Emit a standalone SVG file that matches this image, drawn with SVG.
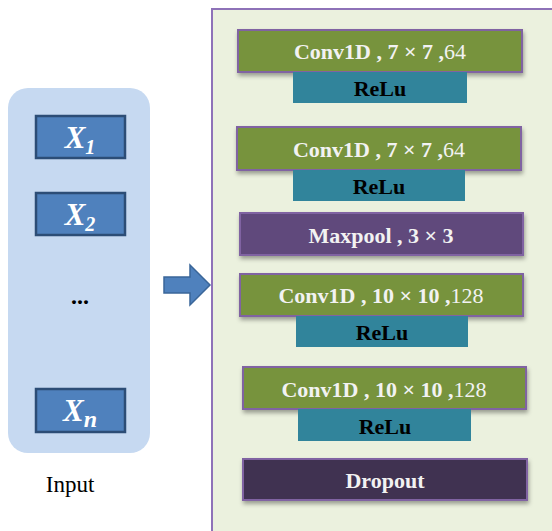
<svg xmlns="http://www.w3.org/2000/svg" width="552" height="531" viewBox="0 0 552 531">
<defs>
<filter id="sh" x="-10%" y="-20%" width="120%" height="160%">
<feDropShadow dx="1" dy="3" stdDeviation="2" flood-color="#000" flood-opacity="0.35"/>
</filter>
</defs>
<style>
.conv{fill:#77933c;stroke:#8064a2;stroke-width:2;filter:url(#sh)}
.relu{fill:#31849b}
.xb{fill:#4f81bd;stroke:#2c4d76;stroke-width:2.5}
.t{font-family:"Liberation Serif","Times New Roman","DejaVu Serif",serif;font-weight:bold;text-anchor:middle}
.w{fill:#f2f2f2;font-size:22px}
.k{fill:#000;font-size:22px}
.xl{font-family:"Liberation Serif","Times New Roman","DejaVu Serif",serif;font-weight:bold;font-style:italic;fill:#fff;font-size:31px;text-anchor:middle}
.n{font-weight:normal}
.s{font-family:"Liberation Serif","Times New Roman","DejaVu Serif",serif;fill:#000;text-anchor:middle}
</style>
<rect x="0" y="0" width="552" height="531" fill="#fff"/>
<g id="input">
<rect x="8" y="88" width="142" height="365" rx="20" fill="#c6d9f1"/>
<g id="x1"><rect class="xb" x="36" y="116" width="89" height="42"/><text class="xl" x="80" y="148">X<tspan font-size="20" dy="6">1</tspan></text></g>
<g id="x2"><rect class="xb" x="36" y="193" width="89" height="42"/><text class="xl" x="80" y="225">X<tspan font-size="20" dy="6">2</tspan></text></g>
<text class="s" x="80" y="304" font-size="24" font-weight="bold">...</text>
<g id="xn"><rect class="xb" x="36" y="389" width="89" height="43"/><text class="xl" x="80" y="421">X<tspan font-size="24" dy="6">n</tspan></text></g>
</g>
<text class="s" x="70" y="492" font-size="23">Input</text>
<g id="connectors">
<path d="M164,277 H190 V265 L210,285 L190,305 V293 H164 Z" fill="#4f81bd" stroke="#3a6699" stroke-width="1.5"/>
</g>
<g id="model">
<rect x="212" y="9" width="350" height="540" fill="#ebf1de" stroke="#8e72b8" stroke-width="2"/>
<g id="conv1"><rect class="conv" x="238" y="30" width="284" height="42"/><rect class="relu" x="293" y="72" width="174" height="31"/>
<text class="t w" x="380" y="59">Conv1D , 7 × 7 ,<tspan class="n">64</tspan></text><text class="t k" x="380" y="96">ReLu</text></g>
<g id="conv2"><rect class="conv" x="237" y="127" width="284" height="43"/><rect class="relu" x="293" y="170" width="172" height="31"/>
<text class="t w" x="379" y="157">Conv1D , 7 × 7 ,<tspan class="n">64</tspan></text><text class="t k" x="379" y="194">ReLu</text></g>
<g id="maxpool"><rect class="conv" style="fill:#604a7b" x="240" y="213" width="283" height="42"/>
<text class="t w" x="381" y="243">Maxpool , 3 × 3</text></g>
<g id="conv3"><rect class="conv" x="240" y="274" width="283" height="42"/><rect class="relu" x="296" y="316" width="172" height="31"/>
<text class="t w" x="381" y="303">Conv1D , 10 × 10 ,<tspan class="n">128</tspan></text><text class="t k" x="382" y="340">ReLu</text></g>
<g id="conv4"><rect class="conv" x="243" y="367" width="283" height="42"/><rect class="relu" x="298" y="409" width="173" height="32"/>
<text class="t w" x="384" y="397">Conv1D , 10 × 10 ,<tspan class="n">128</tspan></text><text class="t k" x="385" y="434">ReLu</text></g>
<g id="dropout"><rect class="conv" style="fill:#3f3151" x="243" y="459" width="284" height="41"/>
<text class="t w" x="385" y="488">Dropout</text></g>
</g>
</svg>
